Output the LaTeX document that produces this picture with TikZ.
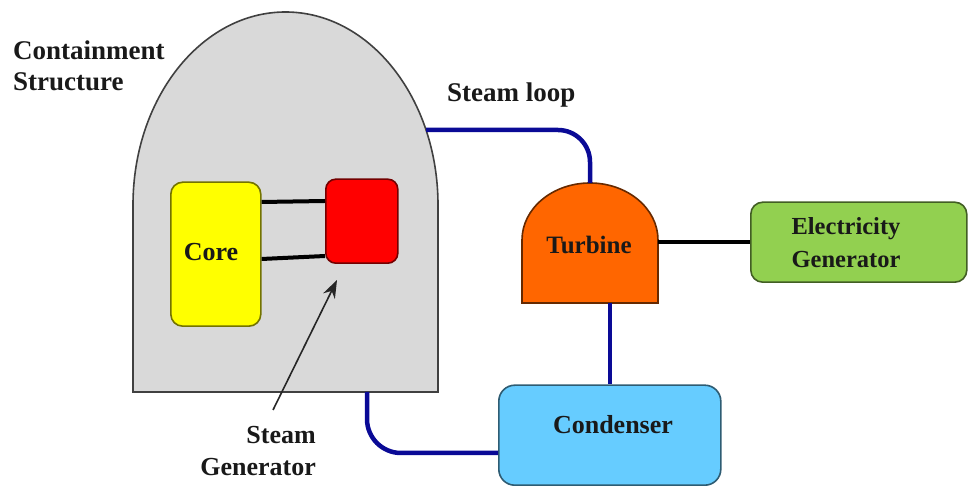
\documentclass[tikz,border=0pt]{standalone}
\usepackage{fontspec}
\setmainfont{Liberation Serif}
\usetikzlibrary{arrows.meta}
\definecolor{contfill}{RGB}{217,217,217}
\definecolor{loopblue}{RGB}{10,10,150}
\definecolor{coreyel}{RGB}{255,255,0}
\definecolor{sgred}{RGB}{255,0,0}
\definecolor{turbor}{RGB}{255,102,0}
\definecolor{condblue}{RGB}{102,204,255}
\definecolor{elecgreen}{RGB}{146,208,80}
\tikzset{
  lbl/.style={font=\fontsize{26}{30}\selectfont\bfseries, text=black!90, inner sep=0pt},
  boxshape/.style={draw=#1!45!black, fill=#1, line width=1.6pt, rounded corners=11pt},
  blueloop/.style={draw=loopblue, line width=4.5pt},
  blackline/.style={draw=black, line width=4pt},
}
\begin{document}
\begin{tikzpicture}[x=1pt,y=1pt]
\useasboundingbox (0,0) rectangle (970,487);
% containment structure
\path[draw=black!75, fill=contfill, line width=1.6pt]
  (133,95) -- (133,282) arc[start angle=180, end angle=0, x radius=152.5, y radius=193] -- (438,95) -- cycle;
\coordinate (cont-out) at (426,357);
\coordinate (cont-bot) at (367,95);
% turbine
\path[draw=turbor!40!black, fill=turbor, line width=1.6pt]
  (522,184) -- (522,247) arc[start angle=180, end angle=0, x radius=68, y radius=57] -- (658,184) -- cycle;
\coordinate (turb-top) at (590,304);
\coordinate (turb-bot) at (610,184);
\coordinate (turb-east) at (658,245);
\node[lbl, font=\fontsize{25}{29}\selectfont\bfseries] (turbine) at (589,242) {Turbine};
% core and steam generator
\node[boxshape=coreyel, minimum width=90pt, minimum height=144pt, anchor=south west, inner sep=0pt, rounded corners=12pt] (core) at (170,160) {};
\node[lbl] (coretxt) at (211,235) {Core};
\node[boxshape=sgred, minimum width=72pt, minimum height=84pt, anchor=south west, inner sep=0pt, rounded corners=10pt] (sg) at (325,223) {};
\draw[blackline] (core.east |- 0,285) -- (sg.west |- 0,286);
\draw[blackline] (core.east |- 0,228) -- (sg.west |- 0,231);
% condenser
\node[boxshape=condblue, minimum width=222pt, minimum height=100pt, anchor=south west, inner sep=0pt, rounded corners=16pt] (cond) at (498,1) {};
\node[lbl] (condtxt) at (613,62) {Condenser};
% electricity generator
\node[boxshape=elecgreen, minimum width=216pt, minimum height=80pt, anchor=south west, inner sep=0pt, rounded corners=12pt] (elec) at (750,204) {};
\node[lbl, font=\fontsize{24.5}{33}\selectfont\bfseries, align=center] (electxt) at (846,244) {Electricity\\Generator};
% steam loop
\draw[blueloop, rounded corners=32pt] (cont-out) -- (turb-top |- cont-out) -- (turb-top);
\draw[blueloop] (turb-bot) -- (turb-bot |- cond.north);
\draw[blueloop, rounded corners=34pt] (cont-bot) -- (cont-bot |- 0,34) -- (cond.west |- 0,34);
\draw[blackline] (turb-east) -- (elec.west |- turb-east);
% labels
\node[lbl, align=left, anchor=north west, font=\fontsize{27}{31}\selectfont\bfseries] (contlbl) at (13,446) {Containment\\Structure};
\node[lbl, anchor=base west, font=\fontsize{27}{30}\selectfont\bfseries] (looplbl) at (447,385) {Steam loop};
\node[lbl, align=right, anchor=north east, font=\fontsize{26}{32}\selectfont\bfseries] (sglbl) at (316,61) {Steam\\Generator};
\coordinate (arr-start) at (273,77);
\draw[black!85, line width=1.6pt, -{Stealth[length=18pt,width=13pt]}] (arr-start) -- (337,207);
\end{tikzpicture}
\end{document}
